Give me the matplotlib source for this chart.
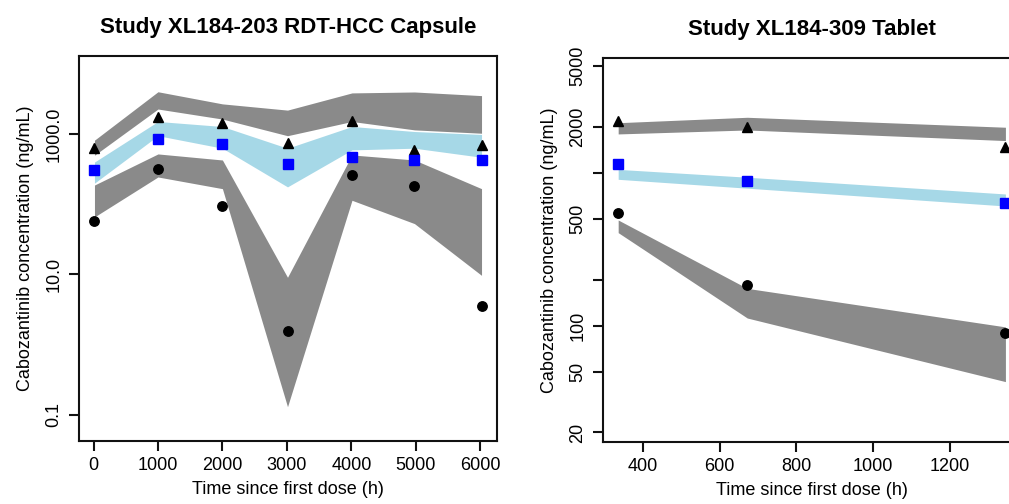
import matplotlib
matplotlib.use("Agg")
import matplotlib.pyplot as plt
from matplotlib.ticker import FixedLocator, FixedFormatter, NullLocator

plt.rcParams['font.family'] = ['Liberation Sans', 'DejaVu Sans']

# ---------------- Study XL184-203 (capsule) ----------------
times_203 = [15, 1000, 2000, 3010, 4010, 4980, 6020]
obs_hi_203 = [640, 1766, 1422, 736, 1534, 596, 690]
obs_med_203 = [308, 847, 716, 374, 476, 425, 426]
obs_lo_203 = [57, 323, 95, 1.55, 258, 181, 3.49]
pi_hi_top_203 = [820, 4020, 2700, 2200, 3870, 3990, 3540]
pi_hi_bot_203 = [500, 2280, 1640, 950, 1515, 1150, 1030]
pi_med_top_203 = [400, 1515, 1285, 630, 1285, 1090, 990]
pi_med_bot_203 = [200, 950, 630, 177, 596, 630, 468]
pi_lo_top_203 = [188, 522, 428, 9.1, 505, 428, 167]
pi_lo_bot_203 = [66, 245, 167, 0.13, 114, 53, 9.7]
yticks_203 = [0.1, 10, 1000]
yticklabels_203 = ["0.1", "10.0", "1000.0"]
xticks_203 = [0, 1000, 2000, 3000, 4000, 5000, 6000]

# ---------------- Study XL184-309 (tablet) ----------------
times_309 = [336, 672, 1344]
obs_hi_309 = [2190, 1980, 1470]
obs_med_309 = [1135, 885, 637]
obs_lo_309 = [547, 184, 89]
pi_hi_top_309 = [2120, 2300, 1980]
pi_hi_bot_309 = [1790, 1900, 1620]
pi_med_top_309 = [1050, 933, 725]
pi_med_bot_309 = [904, 791, 605]
pi_lo_top_309 = [490, 175, 98]
pi_lo_bot_309 = [405, 112, 43]
yticks_309 = [20, 50, 100, 200, 500, 1000, 2000, 5000]
yticklabels_309 = ["20", "50", "100", "", "500", "", "2000", "5000"]
xticks_309 = [400, 600, 800, 1000, 1200]

titles = ["Study XL184-203 RDT-HCC Capsule", "Study XL184-309 Tablet"]
xlabel = "Time since first dose (h)"
ylabel = "Cabozantinib concentration (ng/mL)"

GREY = "#8a8a8a"
LBLUE = "#a6d8e7"
BLUE = "#0000ff"

W, H = 1009, 504
fig = plt.figure(figsize=(W / 100, H / 100), dpi=100)


def px_axes(x0, x1, y0, y1):
    return fig.add_axes([x0 / W, 1 - y1 / H, (x1 - x0) / W, (y1 - y0) / H])


ax1 = px_axes(79, 497, 56, 440.7)
ax2 = px_axes(602.7, 1020.9, 58.3, 441.7)


def draw(ax, t, hi, med, lo, hit, hib, mdt, mdb, lot, lob):
    ax.fill_between(t, hib, hit, color=GREY, lw=0, zorder=1)
    ax.fill_between(t, lob, lot, color=GREY, lw=0, zorder=1)
    ax.fill_between(t, mdb, mdt, color=LBLUE, lw=0, zorder=2)
    ax.plot(t, hi, ls='none', marker='^', ms=7.5, color='black', zorder=3, clip_on=False)
    ax.plot(t, med, ls='none', marker='s', ms=6.8, color=BLUE, zorder=3, clip_on=False)
    ax.plot(t, lo, ls='none', marker='o', ms=6.8, color='black', zorder=3, clip_on=False)


draw(ax1, times_203, obs_hi_203, obs_med_203, obs_lo_203,
     pi_hi_top_203, pi_hi_bot_203, pi_med_top_203, pi_med_bot_203,
     pi_lo_top_203, pi_lo_bot_203)
draw(ax2, times_309, obs_hi_309, obs_med_309, obs_lo_309,
     pi_hi_top_309, pi_hi_bot_309, pi_med_top_309, pi_med_bot_309,
     pi_lo_top_309, pi_lo_bot_309)

for ax in (ax1, ax2):
    ax.set_yscale('log')
    for s in ax.spines.values():
        s.set_linewidth(1.5)
        s.set_color('#111111')
    ax.tick_params(axis='both', which='major', length=7.2, width=1.5,
                   labelsize=13, pad=4.6, direction='out', color='#111111')
    ax.yaxis.set_minor_locator(NullLocator())
    ax.xaxis.set_minor_locator(NullLocator())
    ax.set_xlabel(xlabel, fontsize=13, labelpad=4.8)
    ax.set_ylabel(ylabel, fontsize=13, labelpad=8.3)

ax1.set_xlim(-225, 6260)
ax1.set_ylim(0.0426, 13000)
ax1.yaxis.set_major_locator(FixedLocator(yticks_203))
ax1.yaxis.set_major_formatter(FixedFormatter(yticklabels_203))
ax1.set_xticks(xticks_203)

ax2.set_xlim(295.7, 1384.3)
ax2.set_ylim(17.4, 5590)
ax2.yaxis.set_major_locator(FixedLocator(yticks_309))
ax2.yaxis.set_major_formatter(FixedFormatter(yticklabels_309))
ax2.set_xticks(xticks_309)

for ax in (ax1, ax2):
    for lab in ax.get_yticklabels():
        lab.set_rotation(90)
        lab.set_va('center')

ax1.set_title(titles[0], fontsize=16, fontweight='bold', pad=16.5)
# centre the second title on the visible axes centre
ax2.set_title(titles[1], fontsize=16, fontweight='bold', pad=16.5)

fig.savefig("out.png", dpi=100)
